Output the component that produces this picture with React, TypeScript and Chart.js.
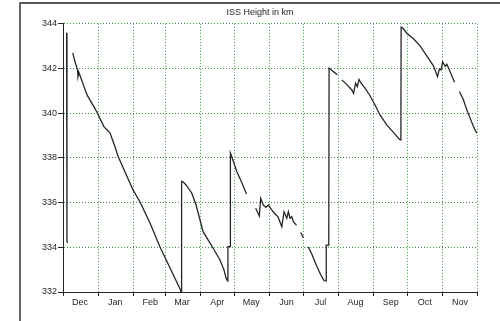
import React, { useEffect, useRef } from "react";
import { Chart, registerables } from "chart.js";

Chart.register(...registerables);

const TITLE = "ISS Height in km";
const monthLabels = ["Dec", "Jan", "Feb", "Mar", "Apr", "May", "Jun", "Jul", "Aug", "Sep", "Oct", "Nov", ""];
// day offsets (from 1 Dec) of month boundaries
const monthStarts = [0, 31, 62, 90, 121, 151, 182, 212, 243, 274, 304, 335, 365];
const yTicks = [332, 334, 336, 338, 340, 342, 344];

// [day since 1 Dec, height km]
const segSpike: number[][] = [[3.2, 343.6], [3.5, 334.3], [3.9, 334.2]];
const segDecToMay: number[][] = [
  [8.6, 342.7], [10.6, 342.3], [12.8, 341.94], [13.2, 341.63], [14.1, 341.81], [15.4, 341.63],
  [21.2, 340.82], [29.7, 340.07], [36.2, 339.39], [41.4, 339.12], [45.9, 338.49], [48.8, 338.04],
  [54.7, 337.37], [61.7, 336.57], [67.9, 336.03], [76.7, 335.09], [85.5, 334.01], [94.4, 333.07],
  [103.6, 332.09], [104.1, 332.0], [104.2, 334.5], [104.7, 334.5], [104.8, 336.95], [105.6, 336.94],
  [108.5, 336.79], [113.5, 336.43], [117.3, 335.89], [120.8, 335.22], [123.5, 334.7], [127.9, 334.33],
  [132.3, 333.97], [138.4, 333.43], [142.0, 332.98], [143.7, 332.63], [145.2, 332.49], [145.4, 334.03],
  [147.3, 334.03], [147.6, 338.22], [150.4, 337.82], [153.4, 337.37], [157.8, 336.88], [161.8, 336.39],
];
const segMayJun: number[][] = [
  [169.9, 335.75], [173.1, 335.4], [174.3, 336.19], [176.6, 335.89], [179.0, 335.79], [181.0, 335.89],
  [184.0, 335.67], [187.0, 335.49], [189.6, 335.36], [192.9, 334.92], [194.9, 335.59], [197.3, 335.3],
  [198.7, 335.59], [200.2, 335.3], [201.7, 335.37], [203.1, 335.15], [205.9, 334.98],
];
const segJulDash: number[][] = [[209.6, 334.66], [212.0, 334.42]];
const segJul: number[][] = [
  [216.3, 334.01], [219.3, 333.7], [223.7, 333.16], [227.1, 332.78], [230.2, 332.51], [231.9, 332.5],
  [232.1, 334.1], [234.3, 334.1], [234.6, 342.02], [238.4, 341.86], [241.9, 341.72],
];
const segAugOct: number[][] = [
  [245.8, 341.49], [250.0, 341.29], [254.6, 341.04], [256.2, 340.89], [257.9, 341.34], [259.5, 341.19],
  [261.0, 341.51], [262.8, 341.34], [266.3, 341.12], [270.7, 340.78], [275.1, 340.37], [279.5, 339.92],
  [285.4, 339.48], [291.3, 339.14], [296.7, 338.83], [297.9, 338.81], [298.1, 343.85], [299.8, 343.8],
  [303.1, 343.58], [309.0, 343.33], [314.8, 343.01], [320.7, 342.57], [326.6, 342.12], [330.2, 341.64],
  [331.8, 341.98], [333.3, 341.94], [334.7, 342.3], [336.9, 342.1], [338.4, 342.19], [340.6, 341.94],
  [342.8, 341.67], [345.2, 341.38],
];
const segNov: number[][] = [
  [349.5, 340.97], [353.0, 340.6], [356.0, 340.15], [358.9, 339.78], [362.0, 339.39], [364.8, 339.11],
];

const segments = [segSpike, segDecToMay, segMayJun, segJulDash, segJul, segAugOct, segNov];

const GRID = "#3d913d";
const INK = "#262626";
const FONT = { family: "'Liberation Sans', Arial, sans-serif", size: 9 };

export default function App() {
  const ref = useRef<HTMLCanvasElement>(null);
  useEffect(() => {
    if (!ref.current) return;
    const chart = new Chart(ref.current, {
      type: "line",
      data: {
        datasets: segments.map((s) => ({
          data: s.map(([x, y]) => ({ x, y })),
          borderColor: INK,
          borderWidth: 1.3,
          pointRadius: 0,
          tension: 0,
          fill: false,
          yAxisID: "y",
        })),
      },
      options: {
        responsive: false,
        animation: false,
        layout: { padding: { left: 0, right: 0, top: 0, bottom: 0 } },
        plugins: {
          legend: { display: false },
          tooltip: { enabled: false },
          title: {
            display: true,
            text: TITLE,
            color: INK,
            font: { ...FONT, weight: "normal" },
            padding: { top: 7, bottom: 6 },
          },
        },
        scales: {
          x: {
            type: "linear",
            min: 0,
            max: 365,
            afterBuildTicks: (scale: any) => {
              scale.ticks = monthStarts.map((v) => ({ value: v }));
            },
            afterFit: (scale: any) => {
              scale.height = 29;
            },
            ticks: {
              autoSkip: false,
              maxRotation: 0,
              padding: 1,
              labelOffset: 17,
              color: INK,
              font: FONT,
              callback: (_v: any, i: number) => monthLabels[i],
            },
            grid: {
              color: (ctx: any) => (ctx.tick && ctx.tick.value === 0 ? "rgba(0,0,0,0)" : GRID),
              lineWidth: 1,
              tickLength: 4,
              tickColor: INK,
            },
            border: { display: true, color: INK, width: 1, dash: [1, 2] },
          },
          y: {
            type: "linear",
            min: 332,
            max: 344,
            afterBuildTicks: (scale: any) => {
              scale.ticks = yTicks.map((v) => ({ value: v }));
            },
            afterFit: (scale: any) => {
              scale.width = 43;
            },
            ticks: { padding: 1, color: INK, font: FONT },
            grid: {
              color: (ctx: any) => (ctx.tick && ctx.tick.value === 332 ? "rgba(0,0,0,0)" : GRID),
              lineWidth: 1,
              tickLength: 5,
              tickColor: INK,
            },
            border: { display: true, color: INK, width: 1, dash: [1, 2] },
          },
          yRight: {
            type: "linear",
            position: "right",
            min: 332,
            max: 344,
            afterFit: (scale: any) => {
              scale.width = 23;
            },
            ticks: { display: false },
            grid: { display: false, drawTicks: false },
            border: { display: false },
          },
        },
      },
    } as any);
    return () => chart.destroy();
  }, []);

  return (
    <div style={{ position: "absolute", left: 0, top: 0, width: 500, height: 321, background: "#fff", overflow: "hidden" }}>
      <canvas ref={ref} width={480} height={321} style={{ display: "block", position: "absolute", left: 20, top: 0 }} />
      <div style={{ position: "absolute", left: 19, top: 2, width: 481, height: 2, background: "#555" }} />
      <div style={{ position: "absolute", left: 19, top: 2, width: 2, height: 319, background: "#666" }} />
    </div>
  );
}
